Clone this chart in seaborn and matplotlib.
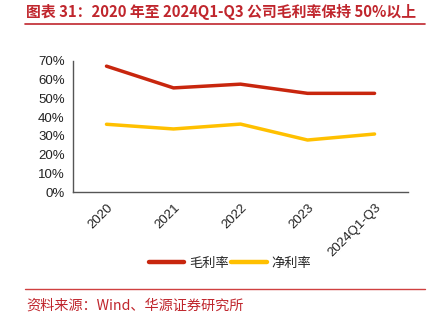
import matplotlib
matplotlib.use("Agg")
import matplotlib.pyplot as plt
import seaborn as sns
import pandas as pd
from matplotlib.ticker import FixedLocator, PercentFormatter
from matplotlib.lines import Line2D

categories = ["2020", "2021", "2022", "2023", "2024Q1-Q3"]
gross_margin = [0.672, 0.556, 0.576, 0.527, 0.527]
net_margin = [0.362, 0.337, 0.363, 0.278, 0.310]
series_names = ["毛利率", "净利率"]
yticks = [0, 0.1, 0.2, 0.3, 0.4, 0.5, 0.6, 0.7]
title_text = "图表 31：2020 年至 2024Q1-Q3 公司毛利率保持 50%以上"
source_text = "资料来源：Wind、华源证券研究所"

sns.set_style("white")
plt.rcParams['font.family'] = ['Noto Sans CJK SC', 'DejaVu Sans']

df = pd.DataFrame({
    "x": list(range(len(categories))) * 2,
    "value": gross_margin + net_margin,
    "series": [series_names[0]] * len(categories) + [series_names[1]] * len(categories),
})
palette = {series_names[0]: "#C8260E", series_names[1]: "#FFC000"}

fig = plt.figure(figsize=(4.45, 3.24), dpi=100)
ax = fig.add_axes([0.164, 0.407, 0.753, 0.405])
sns.lineplot(data=df, x="x", y="value", hue="series", palette=palette,
             linewidth=2.5, ax=ax, legend=False)

ax.set_xlim(-0.5, len(categories) - 0.5)
ax.set_ylim(0, 0.7)
ax.set_yticks(yticks)
ax.yaxis.set_major_formatter(PercentFormatter(1.0, decimals=0))
ax.xaxis.set_major_locator(FixedLocator([i - 0.5 for i in range(len(categories) + 1)]))
ax.set_xticklabels([])
ax.xaxis.set_minor_locator(FixedLocator(list(range(len(categories)))))
ax.set_xticklabels(categories, minor=True, rotation=45, ha="right", va="top",
                   rotation_mode="anchor", fontsize=9.5, color="#222222",
                   family=["Liberation Sans", "DejaVu Sans"])
ax.tick_params(axis="x", which="minor", length=0, pad=7)
ax.tick_params(axis="x", which="major", length=4, width=1, color="#555555", direction="out")
ax.tick_params(axis="y", length=4, width=1, color="#555555", direction="out", pad=2,
               labelsize=9.5, labelcolor="#222222")
for lab in ax.get_yticklabels():
    lab.set_family(["Liberation Sans", "DejaVu Sans"])
for s in ["top", "right"]:
    ax.spines[s].set_visible(False)
for s in ["left", "bottom"]:
    ax.spines[s].set_color("#555555")
    ax.spines[s].set_linewidth(1)
ax.set_xlabel("")
ax.set_ylabel("")

handles = [Line2D([0], [0], color=palette[n], lw=3.2) for n in series_names]
fig.legend(handles, series_names, loc="center", bbox_to_anchor=(0.517, 0.188),
           ncol=2, frameon=False, fontsize=9.5, handlelength=2.7,
           handletextpad=0.35, columnspacing=0.2)

fig.text(0.058, 0.962, title_text, color="#C0262D", fontsize=10.7, fontweight="bold",
         ha="left", va="center")
fig.add_artist(Line2D([0.056, 0.955], [0.926, 0.926], color="#C0262D", lw=1.2,
                      transform=fig.transFigure))
fig.add_artist(Line2D([0.056, 0.955], [0.108, 0.108], color="#D04040", lw=1.0,
                      transform=fig.transFigure))
fig.text(0.058, 0.058, source_text, color="#C0262D", fontsize=10.2,
         ha="left", va="center")

fig.savefig("out.png", dpi=100)
